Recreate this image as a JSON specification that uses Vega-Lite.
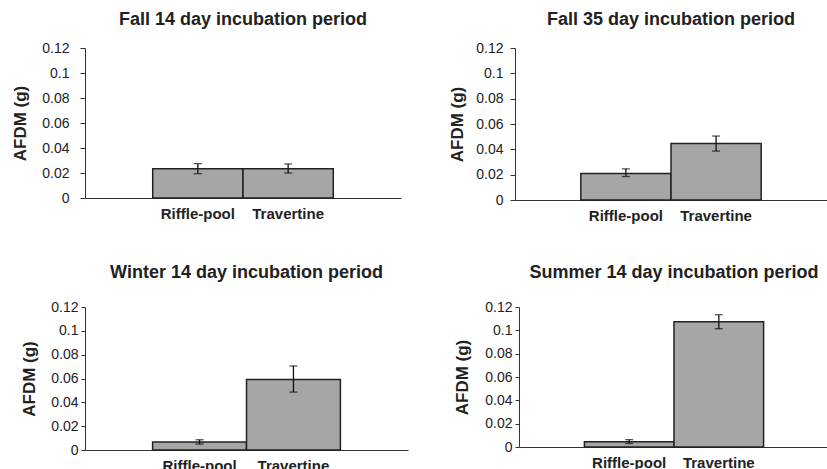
{
  "$schema": "https://vega.github.io/schema/vega-lite/v6.json",
  "padding": {"left": 11, "top": 11, "right": 0, "bottom": 0},
  "datasets": {
    "afdm": [
      {"panel": "Fall 14", "site": "Riffle-pool", "mean": 0.0235, "lo": 0.0195, "hi": 0.0275},
      {"panel": "Fall 14", "site": "Travertine", "mean": 0.0235, "lo": 0.0200, "hi": 0.0272},
      {"panel": "Fall 35", "site": "Riffle-pool", "mean": 0.0210, "lo": 0.0185, "hi": 0.0246},
      {"panel": "Fall 35", "site": "Travertine", "mean": 0.0446, "lo": 0.0386, "hi": 0.0505},
      {"panel": "Winter 14", "site": "Riffle-pool", "mean": 0.0067, "lo": 0.0050, "hi": 0.0086},
      {"panel": "Winter 14", "site": "Travertine", "mean": 0.0592, "lo": 0.0486, "hi": 0.0705},
      {"panel": "Summer 14", "site": "Riffle-pool", "mean": 0.0046, "lo": 0.0030, "hi": 0.0063},
      {"panel": "Summer 14", "site": "Travertine", "mean": 0.1074, "lo": 0.1014, "hi": 0.1134}
    ]
  },
  "data": {"name": "afdm"},
  "vconcat": [
    {
      "hconcat": [
        {
          "width": 316, "height": 150,
          "title": {"text": "Fall 14 day incubation period", "offset": 12},
          "transform": [{"filter": "datum.panel == 'Fall 14'"}],
          "encoding": {"x": {"field": "site", "type": "nominal", "sort": null, "scale": {"paddingInner": 0, "paddingOuter": 0.75}, "axis": {"title": null, "labelAngle": 0, "ticks": false, "labelFontWeight": "bold", "labelFontSize": 15, "labelPadding": 8}}},
          "layer": [
            {"mark": {"type": "bar", "fill": "#a6a6a6", "stroke": "#222", "strokeWidth": 1.5},
             "encoding": {"y": {"field": "mean", "type": "quantitative", "scale": {"domain": [0, 0.12]}, "axis": {"title": "AFDM (g)", "values": [0, 0.02, 0.04, 0.06, 0.08, 0.1, 0.12], "labelExpr": "datum.value == 0 ? '0' : format(datum.value, '.2~f')", "labelOverlap": false, "labelPadding": 11, "tickSize": 5, "titlePadding": 12}}}},
            {"mark": {"type": "errorbar", "color": "#111", "ticks": {"size": 8, "thickness": 1.3}, "rule": {"strokeWidth": 1.3}},
             "encoding": {"y": {"field": "lo", "type": "quantitative", "axis": {"title": "AFDM (g)", "values": [0, 0.02, 0.04, 0.06, 0.08, 0.1, 0.12], "labelExpr": "datum.value == 0 ? '0' : format(datum.value, '.2~f')", "labelOverlap": false, "labelPadding": 11, "tickSize": 5, "titlePadding": 12}}, "y2": {"field": "hi"}}}
          ]
        },
        {
          "width": 312, "height": 152,
          "title": {"text": "Fall 35 day incubation period", "offset": 12},
          "transform": [{"filter": "datum.panel == 'Fall 35'"}],
          "encoding": {"x": {"field": "site", "type": "nominal", "sort": null, "scale": {"paddingInner": 0, "paddingOuter": 0.73}, "axis": {"title": null, "labelAngle": 0, "ticks": false, "labelFontWeight": "bold", "labelFontSize": 15, "labelPadding": 8}}},
          "layer": [
            {"mark": {"type": "bar", "fill": "#a6a6a6", "stroke": "#222", "strokeWidth": 1.5},
             "encoding": {"y": {"field": "mean", "type": "quantitative", "scale": {"domain": [0, 0.12]}, "axis": {"title": "AFDM (g)", "values": [0, 0.02, 0.04, 0.06, 0.08, 0.1, 0.12], "labelExpr": "datum.value == 0 ? '0' : format(datum.value, '.2~f')", "labelOverlap": false, "labelPadding": 7, "tickSize": 5, "titlePadding": 9}}}},
            {"mark": {"type": "errorbar", "color": "#111", "ticks": {"size": 8, "thickness": 1.3}, "rule": {"strokeWidth": 1.3}},
             "encoding": {"y": {"field": "lo", "type": "quantitative", "axis": {"title": "AFDM (g)", "values": [0, 0.02, 0.04, 0.06, 0.08, 0.1, 0.12], "labelExpr": "datum.value == 0 ? '0' : format(datum.value, '.2~f')", "labelOverlap": false, "labelPadding": 7, "tickSize": 5, "titlePadding": 9}}, "y2": {"field": "hi"}}}
          ]
        }
      ],
      "spacing": 47
    },
    {
      "hconcat": [
        {
          "width": 323, "height": 143,
          "title": {"text": "Winter 14 day incubation period", "offset": 18},
          "transform": [{"filter": "datum.panel == 'Winter 14'"}],
          "encoding": {"x": {"field": "site", "type": "nominal", "sort": null, "scale": {"paddingInner": 0, "paddingOuter": 0.72}, "axis": {"title": null, "labelAngle": 0, "ticks": false, "labelFontWeight": "bold", "labelFontSize": 15, "labelPadding": 8}}},
          "layer": [
            {"mark": {"type": "bar", "fill": "#a6a6a6", "stroke": "#222", "strokeWidth": 1.5},
             "encoding": {"y": {"field": "mean", "type": "quantitative", "scale": {"domain": [0, 0.12]}, "axis": {"title": "AFDM (g)", "values": [0, 0.02, 0.04, 0.06, 0.08, 0.1, 0.12], "labelExpr": "datum.value == 0 ? '0' : format(datum.value, '.2~f')", "labelOverlap": false, "labelPadding": 3, "tickSize": 4, "titlePadding": 12}}}},
            {"mark": {"type": "errorbar", "color": "#111", "ticks": {"size": 8, "thickness": 1.3}, "rule": {"strokeWidth": 1.3}},
             "encoding": {"y": {"field": "lo", "type": "quantitative", "axis": {"title": "AFDM (g)", "values": [0, 0.02, 0.04, 0.06, 0.08, 0.1, 0.12], "labelExpr": "datum.value == 0 ? '0' : format(datum.value, '.2~f')", "labelOverlap": false, "labelPadding": 3, "tickSize": 4, "titlePadding": 12}}, "y2": {"field": "hi"}}}
          ]
        },
        {
          "width": 310, "height": 140,
          "title": {"text": "Summer 14 day incubation period", "offset": 18},
          "transform": [{"filter": "datum.panel == 'Summer 14'"}],
          "encoding": {"x": {"field": "site", "type": "nominal", "sort": null, "scale": {"paddingInner": 0, "paddingOuter": 0.73}, "axis": {"title": null, "labelAngle": 0, "ticks": false, "labelFontWeight": "bold", "labelFontSize": 15, "labelPadding": 8}}},
          "layer": [
            {"mark": {"type": "bar", "fill": "#a6a6a6", "stroke": "#222", "strokeWidth": 1.5},
             "encoding": {"y": {"field": "mean", "type": "quantitative", "scale": {"domain": [0, 0.12]}, "axis": {"title": "AFDM (g)", "values": [0, 0.02, 0.04, 0.06, 0.08, 0.1, 0.12], "labelExpr": "datum.value == 0 ? '0' : format(datum.value, '.2~f')", "labelOverlap": false, "labelPadding": 3, "tickSize": 4, "titlePadding": 13}}}},
            {"mark": {"type": "errorbar", "color": "#111", "ticks": {"size": 8, "thickness": 1.3}, "rule": {"strokeWidth": 1.3}},
             "encoding": {"y": {"field": "lo", "type": "quantitative", "axis": {"title": "AFDM (g)", "values": [0, 0.02, 0.04, 0.06, 0.08, 0.1, 0.12], "labelExpr": "datum.value == 0 ? '0' : format(datum.value, '.2~f')", "labelOverlap": false, "labelPadding": 3, "tickSize": 4, "titlePadding": 13}}, "y2": {"field": "hi"}}}
          ]
        }
      ],
      "spacing": 45
    }
  ],
  "spacing": 41,
  "config": {
    "font": "Liberation Sans",
    "view": {"stroke": null},
    "title": {"fontSize": 18, "fontWeight": "bold", "color": "#222", "anchor": "middle"},
    "axis": {"grid": false, "labelColor": "#222", "labelFontSize": 14, "labelFont": "Liberation Sans", "domainColor": "#333", "tickColor": "#333", "tickSize": 5, "titleColor": "#222", "titleFontSize": 17, "titleFontWeight": "bold", "titleFont": "Liberation Sans", "labelPadding": 6}
  }
}
